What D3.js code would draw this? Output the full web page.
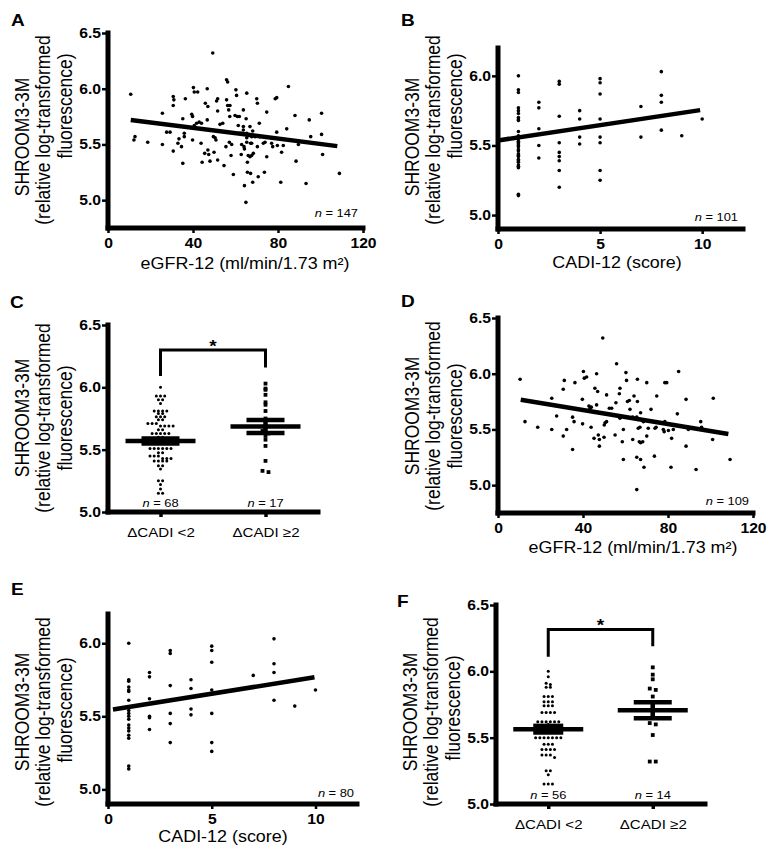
<!DOCTYPE html>
<html><head><meta charset="utf-8">
<script src="https://cdn.jsdelivr.net/npm/d3@7"></script>
<style>body{margin:0;background:#fff} svg{display:block}</style>
</head><body><svg id="c" width="778" height="856"></svg>
<script>
// ---------------- DATA ----------------
const yTitle = ["SHROOM3-3M", "(relative log-transformed", "fluorescence)"];
const eGFRLabel = "eGFR-12 (ml/min/1.73 m²)";
const cadiLabel = "CADI-12 (score)";
const groupCats = ["ΔCADI <2", "ΔCADI ≥2"];

const eGFRTicks = [0, 40, 80, 120];
const cadiTicks = [0, 5, 10];
const yTicksWide = [5.0, 5.5, 6.0, 6.5];
const yTicksNarrow = [5.0, 5.5, 6.0];

// Panel A: eGFR-12 vs SHROOM3-3M (n = 147)
const pointsA = [[10.7,5.95],[12.7,5.57],[12.2,5.54],[18.7,5.52],[25.6,5.78],[25.6,5.50],[27.6,5.61],[29.2,5.61],[30.7,5.93],[31,5.90],[30.7,5.85],[30.7,5.44],[32.9,5.51],[33.4,5.55],[34.6,5.48],[35.2,5.33],[35.2,5.73],[35.9,5.60],[35.9,5.57],[36.4,5.91],[39.4,5.77],[39.8,5.75],[40.2,6.01],[40.6,5.97],[39.8,5.54],[40.6,5.67],[41.7,5.69],[42.2,5.97],[42.9,5.70],[44,5.69],[43.8,5.51],[44.3,5.34],[45.5,5.42],[46.7,6.00],[45.8,5.87],[47,5.84],[46.7,5.72],[47,5.45],[47.4,5.41],[48,5.35],[49.3,6.32],[49.6,5.57],[50.4,5.56],[50.8,5.54],[49.9,5.43],[51.1,5.89],[51.6,5.91],[51.6,5.80],[51.6,5.36],[52.7,5.68],[54,5.69],[54.6,5.31],[55.5,5.48],[55.8,6.08],[56.3,6.06],[55.8,5.90],[56.3,5.85],[57.4,5.85],[56.8,5.81],[57.3,5.75],[57.1,5.52],[58.2,5.50],[57.9,5.40],[59,5.23],[59.8,5.76],[60.2,5.99],[60.5,5.94],[60.9,5.75],[61.3,5.67],[61.8,5.75],[62.1,5.60],[62.9,5.60],[62.9,5.50],[62.7,5.41],[63.7,5.81],[63.7,5.66],[63.7,5.63],[64,5.48],[64.2,5.46],[64.2,5.13],[64.9,4.98],[65.3,5.96],[65,5.73],[65.3,5.60],[65.3,5.56],[65.3,5.52],[65.6,5.34],[65.6,5.25],[66,5.40],[66.8,5.39],[67.6,5.40],[66.8,5.66],[67.1,5.51],[67.6,5.51],[67.1,5.24],[67.6,5.57],[68.1,5.62],[68.1,5.16],[68.4,5.42],[69.2,5.57],[70,5.91],[70.3,5.87],[70.3,5.48],[70.7,5.21],[71.2,5.69],[71.5,5.57],[73.1,5.51],[73.9,5.52],[73.6,5.25],[74.7,5.39],[74.7,5.79],[77,5.51],[77.5,5.48],[78.7,5.91],[79.4,5.92],[79.4,5.61],[79.7,5.49],[81.3,5.16],[81.7,5.43],[82.5,5.49],[84.1,5.64],[84.9,6.02],[88,5.76],[88.5,5.35],[89.6,5.50],[93.2,5.15],[94.7,5.72],[95.4,5.57],[100.5,5.78],[100.5,5.59],[101,5.41],[108.9,5.24]];
const fitA = [5.746, -0.00242];       // intercept, slope
const fitRangeA = [10.7, 107.9];

// Panel D: eGFR-12 vs SHROOM3-3M (n = 109)
const pointsD = [[10.4,5.95],[12.7,5.57],[18.7,5.52],[25.3,5.78],[25.3,5.50],[27.6,5.62],[30.7,5.86],[31.2,5.94],[30.7,5.44],[32.3,5.50],[35.1,5.61],[35.8,5.57],[35.1,5.32],[36.2,5.92],[39.7,5.77],[40.2,6.02],[40.6,5.96],[39.8,5.55],[41.7,5.97],[42.8,5.71],[43.3,5.69],[43.9,5.70],[43.8,5.52],[45.2,5.42],[46.4,6.00],[45.6,5.87],[46.9,5.84],[46.4,5.72],[47.2,5.45],[47.7,5.41],[47.7,5.35],[49.3,6.32],[50.4,5.56],[51.1,5.57],[50,5.54],[49.9,5.43],[51.1,5.81],[52.4,5.69],[53.5,5.69],[55.1,5.45],[55.8,6.09],[57.4,5.87],[57.1,5.82],[55.5,5.74],[57.4,5.60],[58.5,5.39],[59,5.23],[60.2,6.01],[60.5,5.94],[60.9,5.75],[61.8,5.76],[59,5.50],[62.1,5.68],[63.4,5.61],[63.4,5.41],[64,5.80],[65.6,5.95],[65.6,5.75],[65.3,5.61],[65.6,5.59],[65.3,5.25],[65.3,4.96],[66,5.51],[66.8,5.52],[66.5,5.39],[67.1,5.38],[68.1,5.39],[67.1,5.23],[67.1,5.65],[68.4,5.57],[68.7,5.16],[70,5.92],[70,5.44],[70.7,5.51],[72,5.68],[73.6,5.26],[73.9,5.51],[74.4,5.52],[74.7,5.80],[77.8,5.50],[78.2,5.48],[78.5,5.92],[79.4,5.92],[78.5,5.57],[80.2,5.49],[81.4,5.16],[81.7,5.42],[82.5,5.50],[84.4,5.64],[85,6.02],[88.5,5.77],[88.5,5.35],[89.6,5.50],[93.2,5.14],[95.4,5.57],[95.8,5.52],[101.3,5.78],[101,5.41],[109.2,5.23]];
const fitD = [5.80, -0.00314];
const fitRangeD = [10.7, 108.4];

// Panel B: CADI-12 vs SHROOM3-3M (n = 101)
const pointsB = [[1,6.00],[1,5.90],[1,5.88],[1,5.77],[1,5.75],[1,5.73],[1,5.70],[1,5.69],[1,5.68],[1,5.60],[1,5.57],[1,5.56],[1,5.55],[1,5.53],[1,5.52],[1,5.51],[1,5.50],[1,5.49],[1,5.47],[1,5.46],[1,5.44],[1,5.43],[1,5.42],[1,5.40],[1,5.39],[1,5.38],[1,5.36],[1,5.35],[1,5.34],[1,5.15],[1,5.14],
 [2,5.81],[2,5.77],[2,5.62],[2,5.50],[2,5.41],
 [3,5.96],[3,5.94],[3,5.71],[3,5.52],[3,5.45],[3,5.42],[3,5.39],[3,5.32],[3,5.20],
 [4,5.75],[4,5.69],[4,5.56],[4,5.51],
 [5,5.98],[5,5.95],[5,5.87],[5,5.69],[5,5.56],[5,5.52],[5,5.32],[5,5.25],
 [7,5.78],[7,5.56],[8,6.03],[8,5.86],[8,5.81],[8,5.61],[9,5.57],[10,5.69]];
const fitB = [5.536, 0.022];
const fitRangeB = [0, 9.9];

// Panel E: CADI-12 vs SHROOM3-3M (n = 80)
const pointsE = [[1,6.00],[1,5.75],[1,5.74],[1,5.70],[1,5.68],[1,5.67],[1,5.61],[1,5.54],[1,5.52],[1,5.50],[1,5.48],[1,5.44],[1,5.42],[1,5.40],[1,5.37],[1,5.35],[1,5.16],[1,5.14],
 [2,5.80],[2,5.77],[2,5.62],[2,5.50],[2,5.49],[2,5.41],
 [3,5.95],[3,5.93],[3,5.71],[3,5.52],[3,5.45],[3,5.32],
 [4,5.75],[4,5.69],[4,5.55],[4,5.51],
 [5,5.98],[5,5.95],[5,5.87],[5,5.68],[5,5.52],[5,5.32],[5,5.26],
 [7,5.78],[8,6.03],[8,5.86],[8,5.80],[8,5.61],[9,5.57],[10,5.68]];
const fitE = [5.541, 0.0227];
const fitRangeE = [0.24, 9.95];

// Panel C: ΔCADI groups (n = 68, n = 17)
const groupC1 = [6.00,5.93,5.93,5.93,5.90,5.90,5.87,5.81,5.81,5.81,5.81,5.79,5.79,5.765,5.765,5.765,5.74,5.74,5.71,5.71,5.71,5.69,5.69,5.69,5.69,5.66,5.66,5.63,5.63,5.63,5.63,5.63,5.60,5.60,5.59,5.58,5.58,5.57,5.56,5.55,5.55,5.51,5.51,5.51,5.51,5.51,5.51,5.475,5.475,5.45,5.45,5.45,5.43,5.43,5.43,5.41,5.41,5.41,5.41,5.37,5.37,5.345,5.25,5.25,5.22,5.185,5.15,5.15];
const groupC2 = [6.03,5.99,5.98,5.94,5.88,5.86,5.81,5.75,5.69,5.65,5.63,5.61,5.58,5.53,5.41,5.33,5.32];
const meansC = [5.57, 5.685];
const semC = [0.02, 0.052];
const nC = [68, 17];
const bracketC = [6.30, 6.09, 6.16];   // top, left foot, right foot

// Panel F: ΔCADI groups (n = 56, n = 14)
const groupF1 = [6.00,5.96,5.91,5.90,5.88,5.88,5.81,5.81,5.81,5.77,5.77,5.77,5.74,5.74,5.74,5.69,5.69,5.69,5.69,5.62,5.62,5.62,5.62,5.62,5.62,5.60,5.59,5.58,5.57,5.56,5.55,5.54,5.50,5.50,5.50,5.50,5.50,5.50,5.50,5.45,5.45,5.45,5.41,5.41,5.41,5.41,5.37,5.37,5.37,5.35,5.25,5.25,5.22,5.15,5.15,5.15];
const groupF2 = [6.03,5.975,5.94,5.87,5.86,5.81,5.74,5.71,5.67,5.61,5.60,5.52,5.32,5.32];
const meansF = [5.564, 5.707];
const semF = [0.025, 0.06];
const nF = [56, 14];
const bracketF = [6.316, 6.11, 6.19];

const nLabels = {A: 147, B: 101, D: 109, E: 80};

// ---------------- DRAWING ----------------
const SX = 1.12;
const FONT = "'Liberation Sans', Arial, Helvetica, sans-serif";
const AXW = 5;
const svg = d3.select('#c').style('font-family', FONT);

function T(x, y, s, o = {}) {
  const t = svg.append('text')
    .attr('transform', o.rot ? `translate(${x},${y}) rotate(-90) scale(1,${SX})` : `translate(${x},${y}) scale(${SX},1)`)
    .attr('text-anchor', o.anchor || 'middle')
    .attr('dominant-baseline', o.base || 'auto')
    .style('font-family', FONT)
    .style('font-size', (o.size || 16) + 'px')
    .style('font-weight', o.weight || 'normal')
    .attr('fill', '#000');
  if (s !== null) t.text(s);
  return t;
}
function nText(x, y, n, anchor) {
  const t = T(x, y, null, {anchor: anchor || 'end', size: 11.5});
  t.append('tspan').style('font-style', 'italic').text('n');
  t.append('tspan').text(' = ' + n);
}
// axis bars drawn as filled rectangles
function vbar(x, y1, y2, w) {
  svg.append('rect').attr('x', x - w / 2).attr('y', Math.min(y1, y2) - w / 2)
    .attr('width', w).attr('height', Math.abs(y2 - y1) + w).attr('fill', '#000');
}
function hbar(y, x1, x2, w) {
  svg.append('rect').attr('x', Math.min(x1, x2) - w / 2).attr('y', y - w / 2)
    .attr('width', Math.abs(x2 - x1) + w).attr('height', w).attr('fill', '#000');
}
function styleAxis(g) {
  g.select('.domain').remove();
  g.selectAll('.tick line').attr('stroke', '#000').attr('stroke-width', 2.5);
  g.selectAll('.tick text').attr('fill', '#000').style('font-family', FONT);
}
function yAxis(sc, x0, ticks) {
  const [b, t] = sc.range();
  vbar(x0, b, t, AXW);
  const g = svg.append('g').attr('transform', `translate(${x0},0)`)
    .call(d3.axisLeft(sc).tickValues(ticks).tickFormat(d3.format('.1f')).tickSize(6).tickSizeOuter(0));
  styleAxis(g);
  g.selectAll('.tick text').style('font-size', '14px').style('font-weight', 'bold')
    .attr('x', -7 / SX).attr('transform', `scale(${SX},1)`);
}
function xAxisLin(sc, y0, ticks) {
  const [l, r] = sc.range();
  hbar(y0, l, r, AXW);
  const g = svg.append('g').attr('transform', `translate(0,${y0})`)
    .call(d3.axisBottom(sc).tickValues(ticks).tickFormat(d3.format('d')).tickSize(5).tickSizeOuter(0).tickPadding(5));
  styleAxis(g);
  g.selectAll('.tick text').style('font-size', '14px').style('font-weight', 'bold')
    .attr('transform', `scale(${SX},1)`);
}
function xAxisCat(sc, y0) {
  const [l, r] = sc.range();
  hbar(y0, l, r, AXW);
  const g = svg.append('g').attr('transform', `translate(0,${y0})`)
    .call(d3.axisBottom(sc).tickSize(5).tickSizeOuter(0).tickPadding(10));
  styleAxis(g);
  g.selectAll('.tick line').attr('stroke-width', 3.5);
  g.selectAll('.tick text').style('font-size', '13.5px')
    .attr('transform', `scale(${SX},1)`);
}
function yTitleBlock(x0, centers) {
  const offs = [86, 65, 43];
  yTitle.forEach((s, i) => T(x0 - offs[i], centers[i], s, {rot: true, size: 17.5, base: 'central'}));
}
function letter(x, y, s) { T(x, y, s, {anchor: 'start', size: 17, weight: 'bold'}); }

function scatterPanel(p) {
  svg.append('g').selectAll('circle').data(p.pts).join('circle')
    .attr('cx', d => p.x(d[0])).attr('cy', d => p.y(d[1])).attr('r', 1.8).attr('fill', '#000');
  const f = p.fit;
  svg.append('line')
    .attr('x1', p.x(p.fitRange[0])).attr('y1', p.y(f[0] + f[1] * p.fitRange[0]))
    .attr('x2', p.x(p.fitRange[1])).attr('y2', p.y(f[0] + f[1] * p.fitRange[1]))
    .attr('stroke', '#000').attr('stroke-width', 4.5);
  yAxis(p.y, p.x.range()[0], p.yTicks);
  xAxisLin(p.x, p.y.range()[0], p.xTicks);
}

function swarm(vals, cx, ysc, rowH, colW) {
  const rows = d3.group(vals.map(v => ({v, py: ysc(v)})), d => Math.round(d.py / rowH));
  const out = [];
  for (const [, arr] of rows) arr.forEach((d, i) => out.push({x: cx + (i - (arr.length - 1) / 2) * colW, y: d.py}));
  return out;
}

function groupPanel(p) {
  const [x0, x1] = p.x.range();
  const xs = d3.scalePoint().domain(groupCats).range([x0, x1]).padding(0.5);
  const c1 = xs(groupCats[0]), c2 = xs(groupCats[1]);
  svg.append('g').selectAll('circle').data(swarm(p.g1, c1, p.y, 3.6, 4.2)).join('circle')
    .attr('cx', d => d.x).attr('cy', d => d.y).attr('r', 1.5).attr('fill', '#000');
  svg.append('g').selectAll('rect').data(swarm(p.g2, c2, p.y, 4.5, 6)).join('rect')
    .attr('x', d => d.x - 1.9).attr('y', d => d.y - 1.9).attr('width', 3.8).attr('height', 3.8).attr('fill', '#000');
  [c1, c2].forEach((c, i) => {
    const m = p.means[i], s = p.sem[i];
    const g = svg.append('g').attr('stroke', '#000').attr('stroke-width', 4.5);
    g.append('line').attr('x1', c - 35).attr('x2', c + 35).attr('y1', p.y(m)).attr('y2', p.y(m));
    g.append('line').attr('x1', c - p.semW[i]).attr('x2', c + p.semW[i]).attr('y1', p.y(m + s)).attr('y2', p.y(m + s));
    g.append('line').attr('x1', c - p.semW[i]).attr('x2', c + p.semW[i]).attr('y1', p.y(m - s)).attr('y2', p.y(m - s));
    g.append('line').attr('x1', c).attr('x2', c).attr('y1', p.y(m + s)).attr('y2', p.y(m - s));
    nText(c, p.nY, p.n[i], 'middle');
  });
  const b = p.bracket;
  svg.append('path')
    .attr('d', `M${c1},${p.y(b[1])}V${p.y(b[0])}H${c2}V${p.y(b[2])}`)
    .attr('fill', 'none').attr('stroke', '#000').attr('stroke-width', 3);
  T((c1 + c2) / 2, p.y(b[0]) + 2, '*', {size: 17, weight: 'bold'});
  yAxis(p.y, x0, yTicksWide);
  xAxisCat(xs, p.y(5.0));
}

// A
const xA = d3.scaleLinear().domain([0, 120]).range([108, 363]);
const yA = d3.scaleLinear().domain([4.75, 6.5]).range([228, 33]);
scatterPanel({x: xA, y: yA, xTicks: eGFRTicks, yTicks: yTicksWide, pts: pointsA, fit: fitA, fitRange: fitRangeA});
letter(11, 26, 'A');
yTitleBlock(108, [137, 130, 106]);
T(245, 269, eGFRLabel, {size: 16});
nText(358, 217, nLabels.A);

// B
const xB = d3.scaleLinear().domain([0, 12]).range([498, 743]);
const yB = d3.scaleLinear().domain([4.9, 6.2]).range([229, 48]);
scatterPanel({x: xB, y: yB, xTicks: cadiTicks, yTicks: yTicksNarrow, pts: pointsB, fit: fitB, fitRange: fitRangeB});
letter(401, 26, 'B');
yTitleBlock(498, [137, 130, 106]);
T(617, 268, cadiLabel, {size: 16});
nText(738, 221, nLabels.B);

// C
const xC = d3.scaleLinear().range([108, 318]);
const yC = d3.scaleLinear().domain([5.0, 6.5]).range([512, 325]);
groupPanel({x: xC, y: yC, g1: groupC1, g2: groupC2, means: meansC, sem: semC, n: nC, nY: 507, bracket: bracketC, semW: [19, 19]});
letter(10, 308, 'C');
yTitleBlock(108, [418, 418, 418]);

// D
const xD = d3.scaleLinear().domain([0, 120]).range([498, 753]);
const yD = d3.scaleLinear().domain([4.75, 6.5]).range([513, 318]);
scatterPanel({x: xD, y: yD, xTicks: eGFRTicks, yTicks: yTicksWide, pts: pointsD, fit: fitD, fitRange: fitRangeD});
letter(401, 307, 'D');
yTitleBlock(498, [416, 416, 416]);
T(633, 553, eGFRLabel, {size: 16});
nText(749, 505, nLabels.D);

// E
const xE = d3.scaleLinear().domain([0, 12]).range([108, 357]);
const yE = d3.scaleLinear().domain([4.9, 6.2]).range([804, 614]);
scatterPanel({x: xE, y: yE, xTicks: cadiTicks, yTicks: yTicksNarrow, pts: pointsE, fit: fitE, fitRange: fitRangeE});
letter(11, 595, 'E');
yTitleBlock(108, [712, 712, 710]);
T(223, 842, cadiLabel, {size: 16});
nText(354, 797, nLabels.E);

// F
const xF = d3.scaleLinear().range([496, 705]);
const yF = d3.scaleLinear().domain([5.0, 6.5]).range([804, 605]);
groupPanel({x: xF, y: yF, g1: groupF1, g2: groupF2, means: meansF, sem: semF, n: nF, nY: 799, bracket: bracketF, semW: [15, 19]});
letter(397, 607, 'F');
yTitleBlock(496, [712, 712, 708]);
</script></body></html>
